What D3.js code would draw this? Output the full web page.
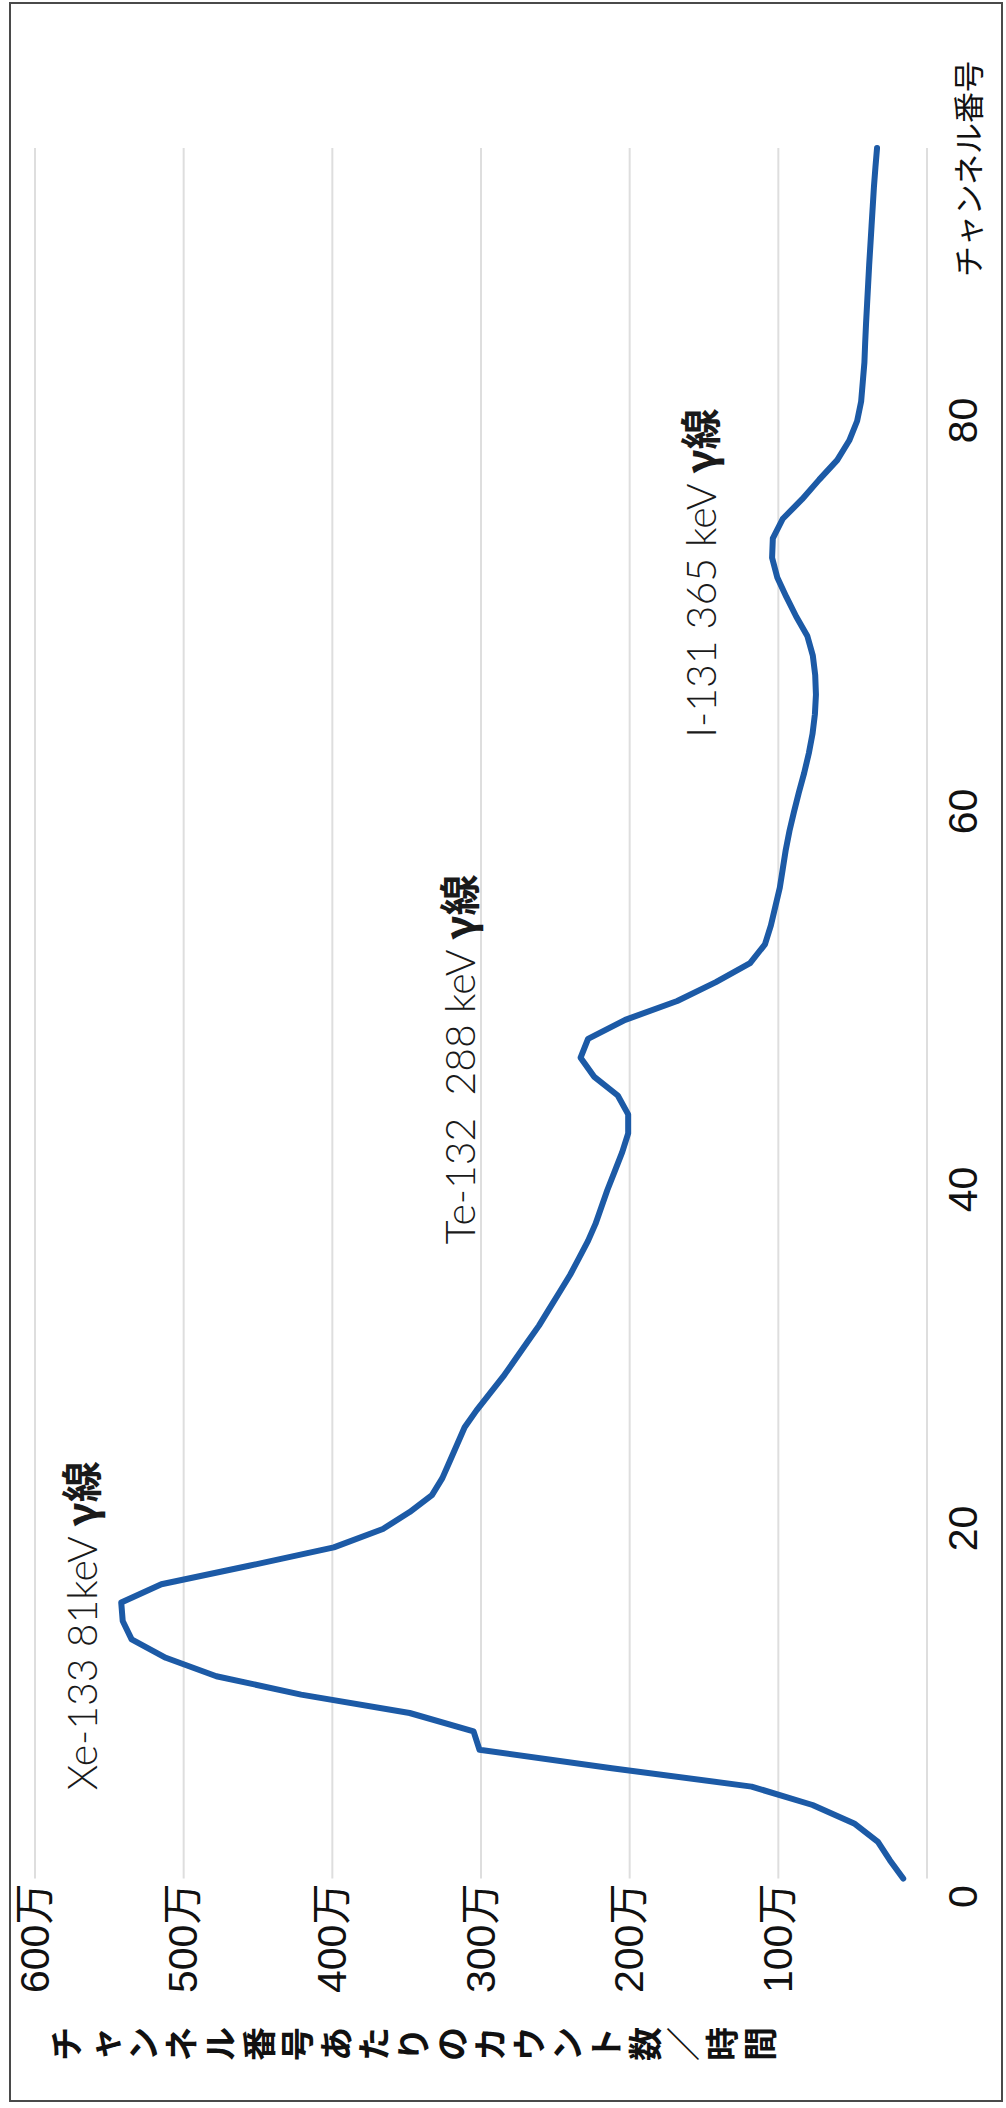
<!DOCTYPE html>
<html>
<head>
<meta charset="utf-8">
<script src="https://cdn.jsdelivr.net/npm/d3@7"></script>
<style>
  html, body { margin: 0; padding: 0; background: #ffffff; }
  svg { display: block; }
</style>
</head>
<body>
<svg id="chart" width="1006" height="2108"></svg>
<script>
// Gamma spectrum: counts per channel per hour, channels 1..94
const channels = d3.range(1, 95);
const counts = [
  160000, 250000, 330000, 490000, 770000, 1180000, 2120000, 3010000, 3050000, 3480000,
  4210000, 4780000, 5120000, 5350000, 5410000, 5420000, 5150000, 4560000, 3990000, 3660000,
  3480000, 3330000, 3260000, 3210000, 3160000, 3110000, 3030000, 2940000, 2850000, 2770000,
  2690000, 2610000, 2540000, 2470000, 2400000, 2340000, 2280000, 2230000, 2190000, 2150000,
  2100000, 2050000, 2010000, 2010000, 2080000, 2240000, 2330000, 2280000, 2030000, 1680000,
  1420000, 1190000, 1090000, 1050000, 1020000, 990000, 970000, 950000, 925000, 895000,
  862000, 826000, 795000, 770000, 754000, 747000, 752000, 768000, 805000, 880000,
  946000, 1007000, 1042000, 1037000, 970000, 840000, 725000, 604000, 523000, 470000,
  443000, 432000, 421000, 416000, 410000, 403000, 396000, 389000, 381000, 373000,
  365000, 357000, 347000, 336000
];

// Axis ticks and titles
const channelTicks = [0, 20, 40, 60, 80];
const countTicks = [1000000, 2000000, 3000000, 4000000, 5000000, 6000000];
const countTitle = "チャンネル番号あたりのカウント数／時間";
const channelTitle = "チャンネル番号";

// Peak annotations, anchored in data space (start of text, baseline)
const annotations = [
  { text: "Xe-133 81keV ",    gamma: "γ線", channel: 5.8,  count: 5580000 },
  { text: "Te-132  288 keV ", gamma: "γ線", channel: 36.8, count: 3040000 },
  { text: "I-131 365 keV ",   gamma: "γ線", channel: 63.8, count: 1420000 }
];

const W = 1006, H = 2108;
const svg = d3.select("#chart");

// outer frame
svg.append("rect")
  .attr("x", 10).attr("y", 3)
  .attr("width", 992).attr("height", 2098)
  .attr("fill", "#ffffff")
  .attr("stroke", "#4a4a4a")
  .attr("stroke-width", 2);

// The chart is laid out in landscape and turned a quarter turn counter-clockwise
const g = svg.append("g").attr("transform", `translate(0,${H}) rotate(-90)`);

// channel axis: piecewise linear between the labelled ticks
const x = d3.scaleLinear()
  .domain([0, 20, 40, 60, 80, 94])
  .range([211, 579, 918, 1296, 1687, 1960]);
const y = d3.scaleLinear().domain([0, 6000000]).range([927, 35]);

const xStart = x(channels[0]);
const xEnd = x(channels[channels.length - 1]);

// horizontal gridlines (including the zero line)
g.append("g")
  .selectAll("line")
  .data([0].concat(countTicks))
  .join("line")
  .attr("x1", xStart).attr("x2", xEnd)
  .attr("y1", d => y(d)).attr("y2", d => y(d))
  .attr("stroke", "#dedede")
  .attr("stroke-width", 2);

// count axis labels
const countAxis = d3.axisLeft(y)
  .tickValues(countTicks)
  .tickSize(0)
  .tickPadding(5)
  .tickFormat(d => (d / 10000) + "万");

g.append("g")
  .attr("transform", `translate(${xStart},0)`)
  .call(countAxis)
  .call(s => s.select(".domain").remove())
  .selectAll("text")
  .attr("font-family", "'Liberation Sans', Arial, 'Noto Sans CJK JP', sans-serif")
  .attr("font-size", 41)
  .attr("fill", "#111");

// channel axis labels
const channelAxis = d3.axisBottom(x)
  .tickValues(channelTicks)
  .tickSize(0)
  .tickPadding(21)
  .tickFormat(d3.format("d"));

g.append("g")
  .attr("transform", `translate(0,${y(0)})`)
  .call(channelAxis)
  .call(s => s.select(".domain").remove())
  .selectAll("text")
  .attr("font-family", "'Liberation Sans', Arial, sans-serif")
  .attr("font-size", 41)
  .attr("fill", "#111");

// spectrum line
const series = channels.map((c, i) => ({ c, v: counts[i] }));
g.append("path")
  .datum(series)
  .attr("fill", "none")
  .attr("stroke", "#1c5aa6")
  .attr("stroke-width", 6)
  .attr("stroke-linejoin", "round")
  .attr("stroke-linecap", "round")
  .attr("d", d3.line().x(d => x(d.c)).y(d => y(d.v)));

// annotations
const ann = g.append("g").selectAll("text")
  .data(annotations)
  .join("text")
  .attr("x", d => x(d.channel))
  .attr("y", d => y(d.count))
  .style("white-space", "pre")
  .attr("font-family", "Lato, 'Open Sans', sans-serif")
  .attr("font-weight", 300)
  .attr("font-size", 41)
  .attr("fill", "#1a1a1a");
ann.append("tspan").text(d => d.text);
ann.append("tspan")
  .attr("font-family", "'Noto Sans CJK JP', sans-serif")
  .attr("font-weight", 700)
  .text(d => d.gamma);

// count axis title, set vertically one character at a time
const titleChars = Array.from(countTitle);
const pitch = 38.6, titleTop = 47, titleU = 64, titleSize = 34;
g.append("g").selectAll("text")
  .data(titleChars)
  .join("text")
  .attr("x", titleU)
  .attr("y", (d, i) => titleTop + pitch * (i + 0.5) + titleSize * 0.36)
  .attr("text-anchor", "middle")
  .attr("font-family", "'Noto Sans CJK JP', sans-serif")
  .attr("font-weight", 700)
  .attr("font-size", titleSize)
  .attr("fill", "#111")
  .text(d => d);

// channel axis title
g.append("text")
  .attr("x", 1831)
  .attr("y", 980)
  .attr("font-family", "'Noto Sans CJK JP', sans-serif")
  .attr("font-weight", 400)
  .attr("font-size", 31)
  .attr("fill", "#111")
  .text(channelTitle);
</script>
</body>
</html>
